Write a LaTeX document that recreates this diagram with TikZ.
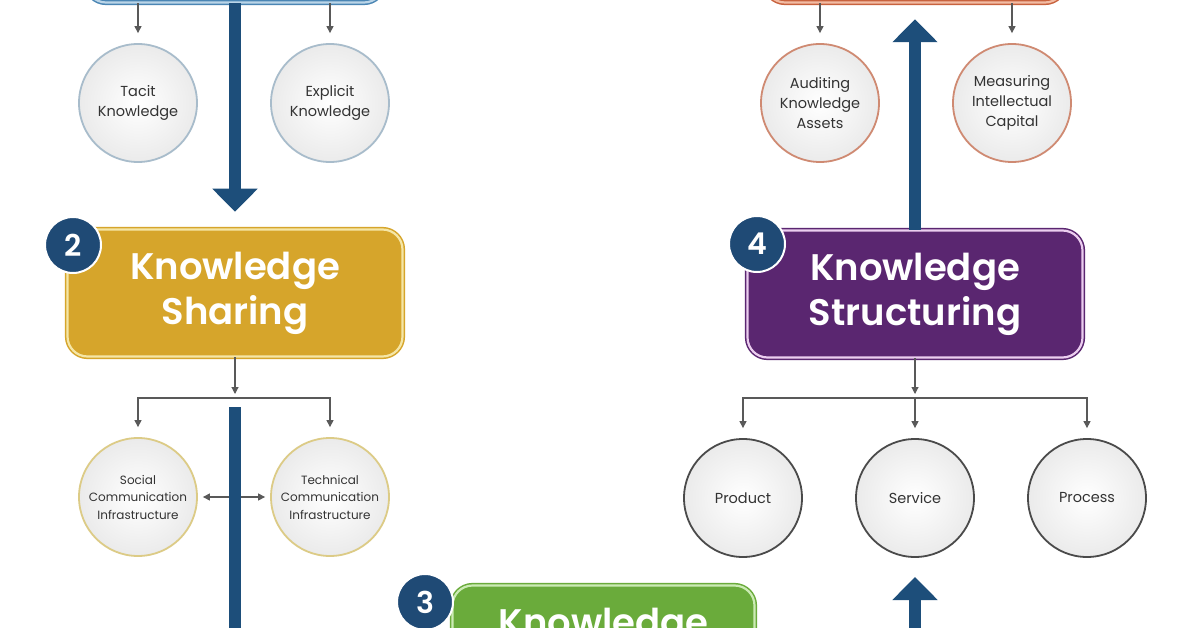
\documentclass[tikz,border=0pt]{standalone}
\usepackage{fontspec}
\setmainfont{Poppins}
\newfontfamily\titlefont{Poppins SemiBold}
\usetikzlibrary{arrows.meta,calc}
\definecolor{arrowblue}{HTML}{1D4E7A}
\definecolor{badgeblue}{HTML}{1F4A75}
\definecolor{gold}{HTML}{D6A52B}
\definecolor{goldlight}{HTML}{F5E6A6}
\definecolor{purp}{HTML}{5A2670}
\definecolor{purplight}{HTML}{EBCDEF}
\definecolor{grn}{HTML}{6AAB3B}
\definecolor{grnlight}{HTML}{CBEBB4}
\definecolor{tlblue}{HTML}{4B86B4}
\definecolor{tllight}{HTML}{BBD5E8}
\definecolor{orng}{HTML}{C8623E}
\definecolor{orlight}{HTML}{F2BCA4}
\definecolor{cblue}{HTML}{A8BCCB}
\definecolor{corange}{HTML}{CF8A72}
\definecolor{cgold}{HTML}{DCCB86}
\definecolor{cgray}{HTML}{4A4A4A}
\definecolor{ctext}{HTML}{333333}
\tikzset{
  bigarrow/.style={draw=arrowblue, line width=12pt, -{Triangle[width=44pt,length=23pt]}},
  thinarr/.style={draw=black!65, line width=1.1pt, -{Triangle[width=7pt,length=7pt]}},
  box/.style={rounded corners=20pt, minimum width=335pt, minimum height=127pt, line width=1.5pt,
    double distance=2.2pt, align=center, text=white, inner sep=0pt,
    font=\fontsize{37}{45}\selectfont\titlefont},
  badge/.style={circle, fill=badgeblue, draw=white, line width=2pt, minimum size=56pt, inner sep=0pt,
    text=white, font=\fontsize{30}{30}\selectfont\titlefont},
  circ/.style={circle, minimum size=118pt, inner sep=0pt, line width=1.8pt, inner color=white,
    outer color=black!8, align=center, text=ctext, font=\fontsize{14.5}{20}\selectfont},
  circs/.style={circ, font=\fontsize{12}{17.5}\selectfont},
}
\begin{document}
\begin{tikzpicture}[x=1pt,y=-1pt]
\useasboundingbox (0,0) rectangle (1196,628);
\clip (0,0) rectangle (1196,628);
\fill[white] (0,0) rectangle (1196,628);

% boxes
\node[box, minimum width=298pt, fill=tlblue, draw=tlblue, double=tllight] (acq) at (235,-61) {};
\node[box, minimum width=300pt, fill=orng, draw=orng, double=orlight] (topr) at (915,-61) {};
\node[box, fill=gold, draw=gold, double=goldlight] (share) at (235,293) {Knowledge\\Sharing};
\node[box, fill=purp, draw=purp, double=purplight] (struct) at (915,294) {Knowledge\\Structuring};
\node[box, minimum width=302pt, fill=grn, draw=grn, double=grnlight] (org) at (603.5,649) {Knowledge\\\phantom{Knowledge}};

% circles
\node[circ, draw=cblue] (tacit) at (138,103) {Tacit\\Knowledge};
\node[circ, draw=cblue] (expl) at (330,103) {Explicit\\Knowledge};
\node[circ, draw=corange] (audit) at (820,103) {Auditing\\Knowledge\\Assets};
\node[circ, draw=corange] (meas) at (1012,103) {Measuring\\Intellectual\\Capital};
\node[circs, draw=cgold] (social) at (138,497) {Social\\Communication\\Infrastructure};
\node[circs, draw=cgold] (tech) at (330,497) {Technical\\Communication\\Infrastructure};
\node[circ, draw=cgray] (prod) at (743,498) {Product};
\node[circ, draw=cgray] (serv) at (915,498) {Service};
\node[circ, draw=cgray] (proc) at (1087,498) {Process};

% coordinates
\coordinate (sj) at (235,398);
\coordinate (sj2) at (915,398);
\coordinate (sharebot) at (235,407);
\coordinate (uptip) at (915,577);

% thin arrows
\draw[thinarr, shorten >=10pt] (tacit |- acq.south) -- (tacit);
\draw[thinarr, shorten >=10pt] (expl |- acq.south) -- (expl);
\draw[thinarr, shorten >=10pt] (audit |- topr.south) -- (audit);
\draw[thinarr, shorten >=10pt] (meas |- topr.south) -- (meas);
\draw[thinarr, shorten >=4pt] (share) -- (sj);
\draw[thinarr, shorten >=10pt] (sj) -| (social);
\draw[thinarr, shorten >=10pt] (sj) -| (tech);
\draw[thinarr, shorten >=4pt] (struct) -- (sj2);
\draw[thinarr, shorten >=10pt] (sj2) -| (prod);
\draw[thinarr, shorten >=10pt] (sj2) -- (serv);
\draw[thinarr, shorten >=10pt] (sj2) -| (proc);
\draw[thinarr, {Triangle[width=7pt,length=7pt]}-{Triangle[width=7pt,length=7pt]}, shorten <=5pt, shorten >=5pt] (social) -- (tech);

% big arrows
\draw[bigarrow, shorten >=17pt] (acq) -- (share);
\draw[bigarrow] (sharebot) |- (org.west);
\draw[bigarrow] (org.east) -| (uptip);
\draw[bigarrow, shorten >=16pt] (struct) -- (topr);

% badges
\node[badge] (b2) at (73,245) {2};
\node[badge] (b3) at (425,602) {3};
\node[badge] (b4) at (757,244) {4};
\end{tikzpicture}
\end{document}
